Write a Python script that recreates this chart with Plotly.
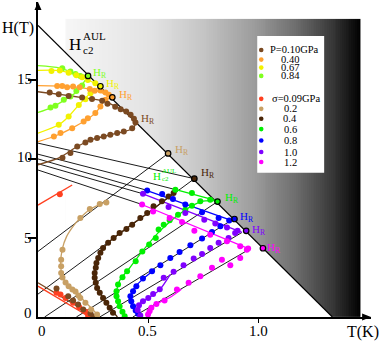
import numpy as np
import plotly.graph_objects as go

# ---------------- figure geometry ----------------
W, HGT = 382, 344
ML, MR, MT, MB = 37.5, 11.1, 2, 26.5
XMAX, YMAX = 1.51, 19.93
FONT = "Liberation Serif"

def px2paper_x(px):
    return (px - ML) / (W - ML - MR)

def px2paper_y(py):
    return (HGT - MB - py) / (HGT - MT - MB)

# ---------------- colours ----------------
C_P010 = "#7b4a22"
C_P040 = "#ffa030"
C_P067 = "#f2f200"
C_P084 = "#80ff20"
C_S009 = "#ff4020"
C_S02 = "#c8a064"
C_S04 = "#4a2608"
C_S06 = "#00f000"
C_S08 = "#0000ff"
C_S10 = "#8000ff"
C_S12 = "#ff00ff"

# ---------------- data (T in K, H in T) ----------------
# H_c2^AUL line
aul_T = [0.0, 1.335]
aul_H = [18.45, 0.0]

# pressure series
p084_T = [0.11, 0.147, 0.17, 0.192, 0.057, 0.079, 0.117, 0.147, 0.174, 0.2]
p084_H = [15.74, 15.53, 15.38, 15.25, 13.25, 13.36, 13.74, 13.95, 14.3, 14.64]
p084_fitU_T = [0.0, 0.1, 0.17, 0.227]
p084_fitU_H = [15.9, 15.75, 15.42, 15.25]
p084_fitL_T = [0.0, 0.06, 0.12, 0.175, 0.227]
p084_fitL_H = [12.94, 13.25, 13.72, 14.25, 15.25]

p067_T = [0.061, 0.099, 0.139, 0.174, 0.2, 0.226, 0.26, 0.094, 0.139, 0.185, 0.215, 0.238]
p067_H = [15.57, 15.59, 15.46, 15.3, 15.17, 15.0, 14.79, 12.16, 12.69, 13.42, 13.78, 14.16]
p067_fitU_T = [0.0, 0.1, 0.2, 0.283]
p067_fitU_H = [15.6, 15.59, 15.17, 14.6]
p067_fitL_T = [0.0, 0.094, 0.139, 0.185, 0.238, 0.283]
p067_fitL_H = [11.63, 12.16, 12.69, 13.42, 14.16, 14.6]

p040_T = [0.087, 0.11, 0.132, 0.159, 0.189, 0.235, 0.257, 0.283, 0.306,
          0.072, 0.102, 0.155, 0.207, 0.226, 0.26, 0.283, 0.306, 0.321]
p040_H = [14.62, 14.62, 14.54, 14.58, 14.54, 14.42, 14.31, 14.33, 14.2,
          11.42, 11.64, 11.95, 12.37, 12.58, 12.9, 13.32, 13.74, 14.06]
p040_fitU_T = [0.0, 0.15, 0.25, 0.337]
p040_fitU_H = [14.64, 14.58, 14.38, 13.9]
p040_fitL_T = [0.0, 0.072, 0.155, 0.26, 0.306, 0.337]
p040_fitL_H = [11.1, 11.42, 11.95, 12.9, 13.74, 13.9]

p010_T = [0.053, 0.094, 0.139, 0.2, 0.245, 0.291, 0.315, 0.35, 0.375, 0.4, 0.42, 0.435, 0.442,
          0.427, 0.389, 0.359, 0.328, 0.298, 0.268, 0.238, 0.215, 0.178, 0.147, 0.111]
p010_H = [14.2, 14.1, 13.99, 13.88, 13.8, 13.68, 13.5, 13.3, 13.15, 13.0, 12.8, 12.55, 12.3,
          11.95, 11.74, 11.64, 11.53, 11.42, 11.32, 11.21, 11.04, 10.79, 10.37, 10.08]
p010_fit_T = [0.0, 0.1, 0.2, 0.3, 0.38, 0.43, 0.442, 0.425, 0.35, 0.25, 0.18, 0.1, 0.0]
p010_fit_H = [14.25, 14.08, 13.88, 13.65, 13.1, 12.6, 12.2, 11.9, 11.6, 11.25, 10.8, 10.1, 9.63]

# uniaxial stress series
s009_T = [0.099, 0.084, 0.102, 0.125, 0.159, 0.187, 0.216, 0.227]
s009_H = [7.76, 1.53, 1.42, 1.21, 0.9, 0.62, 0.33, 0.1]
s009_fitU_T = [0.0, 0.155]
s009_fitU_H = [7.08, 8.35]
s009_fitL_T = [0.0, 0.235]
s009_fitL_H = [1.95, 0.0]

s0_T = [0.084, 0.137, 0.159, 0.182, 0.205, 0.238, 0.251]
s0_H = [1.8, 1.31, 1.04, 0.79, 0.47, 0.22, 0.03]
s0_fit_T = [0.0, 0.26]
s0_fit_H = [2.16, 0.0]

s02_T = [0.192, 0.235, 0.28, 0.31, 0.111, 0.105, 0.105, 0.105, 0.111, 0.125, 0.139,
         0.156, 0.17, 0.183, 0.192, 0.215, 0.241, 0.268]
s02_H = [6.27, 6.84, 7.15, 7.25, 4.26, 3.63, 3.21, 2.79, 2.5, 2.18, 1.95,
         1.74, 1.61, 1.36, 1.21, 0.9, 0.47, 0.16]
s02_fit_T = [0.28, 0.2, 0.14, 0.11, 0.103, 0.11, 0.13, 0.16, 0.192, 0.235, 0.31]
s02_fit_H = [0.0, 1.15, 1.95, 2.6, 3.4, 4.3, 5.1, 5.75, 6.27, 6.8, 7.3]

s04_T = [0.615, 0.592, 0.562, 0.524, 0.495, 0.464, 0.427, 0.401, 0.37, 0.343, 0.318, 0.295,
         0.283, 0.273, 0.265, 0.262, 0.257, 0.257, 0.262, 0.268, 0.28, 0.295, 0.31, 0.325, 0.34]
s04_H = [7.85, 7.63, 7.32, 7.0, 6.58, 6.27, 5.84, 5.57, 5.32, 5.0, 4.69, 4.37,
         4.06, 3.74, 3.42, 3.11, 2.79, 2.48, 2.16, 1.84, 1.53, 1.21, 0.9, 0.58, 0.27]
s04_fit_T = [0.36, 0.31, 0.275, 0.258, 0.265, 0.285, 0.33, 0.4, 0.5, 0.615]
s04_fit_H = [0.0, 0.9, 1.7, 2.6, 3.4, 4.1, 4.85, 5.6, 6.6, 7.85]

s06_T = [0.393, 0.383, 0.37, 0.363, 0.356, 0.356, 0.363, 0.383, 0.404, 0.443, 0.473, 0.504,
         0.534, 0.547, 0.57, 0.597, 0.635, 0.668, 0.698, 0.736, 0.781, 0.623, 0.698]
s06_H = [0.05, 0.33, 0.68, 1.0, 1.31, 1.63, 2.05, 2.51, 2.89, 3.52, 4.14, 4.58,
         5.0, 5.53, 5.84, 6.12, 6.47, 6.79, 7.04, 7.32, 7.42, 8.05, 7.85]
s06_fitL_T = [0.4, 0.365, 0.356, 0.37, 0.41, 0.47, 0.55, 0.65, 0.74, 0.814]
s06_fitL_H = [0.0, 0.8, 1.5, 2.3, 3.0, 4.1, 5.4, 6.6, 7.3, 7.35]
s06_fitU_T = [0.612, 0.814]
s06_fitU_H = [8.1, 7.35]

s08_T = [0.454, 0.443, 0.431, 0.423, 0.419, 0.431, 0.446, 0.476, 0.517, 0.555, 0.6, 0.642,
         0.691, 0.744, 0.789, 0.827, 0.495, 0.563, 0.612, 0.668, 0.744, 0.819, 0.867]
s08_H = [0.2, 0.41, 0.68, 1.0, 1.31, 1.63, 1.95, 2.43, 2.89, 3.27, 3.74, 4.12,
         4.54, 4.96, 5.38, 5.74, 8.01, 7.78, 7.47, 7.11, 6.62, 6.27, 6.1]
s08_fitL_T = [0.46, 0.43, 0.42, 0.44, 0.48, 0.53]
s08_fitL_H = [0.0, 0.7, 1.3, 1.9, 2.45, 3.0]
s08_fitU_T = [0.485, 0.88]
s08_fitU_H = [8.05, 6.1]

s10_T = [0.464, 0.452, 0.458, 0.476, 0.5, 0.522, 0.552, 0.57, 0.615, 0.66, 0.706, 0.744,
         0.781, 0.819, 0.864, 0.894, 0.476, 0.592, 0.668, 0.754, 0.804, 0.857, 0.905]
s10_H = [0.1, 0.45, 0.75, 1.0, 1.2, 1.45, 1.75, 2.48, 2.86, 3.27, 3.7, 3.99,
         4.37, 4.69, 5.0, 5.32, 7.8, 6.96, 6.58, 6.16, 5.91, 5.67, 5.46]
s10_fitL_T = [0.47, 0.452, 0.462, 0.5, 0.55, 0.6]
s10_fitL_H = [0.0, 0.45, 0.85, 1.2, 1.7, 2.7]
s10_fitU_T = [0.47, 0.925]
s10_fitU_H = [7.82, 5.35]

s12_T = [0.499, 0.506, 0.514, 0.537, 0.574, 0.63, 0.683, 0.736, 0.789, 0.834, 0.872, 0.917, 0.947,
         0.472, 0.522, 0.597, 0.653, 0.709, 0.781, 0.857, 0.917, 0.953]
s12_H = [0.16, 0.37, 0.58, 0.83, 1.04, 1.74, 2.16, 2.58, 3.11, 3.63, 3.27, 3.74, 4.26,
         7.11, 6.68, 6.27, 6.01, 5.46, 5.21, 4.79, 4.47, 4.33]
s12_fitL_T = [0.5, 0.51, 0.54, 0.6, 0.65]
s12_fitL_H = [0.0, 0.5, 0.85, 1.25, 1.75]
s12_fitU_T = [0.465, 0.96]
s12_fitU_H = [7.15, 4.3]

# thin black construction lines (each pair = segment end points)
blk_T = [[0, 0.709], [0, 0.612], [0, 0.485], [0, 0.47], [0, 0.465],
         [0, 0.59], [0, 0.709], [0.03, 0.814], [0.174, 0.875], [0.28, 0.925], [0.43, 0.96]]
blk_H = [[11.0, 8.75], [10.3, 8.1], [10.0, 8.05], [9.7, 7.82], [9.3, 7.15],
         [4.15, 10.35], [1.45, 8.75], [0, 7.3], [0, 6.1], [0, 5.35], [0, 4.3]]

# H_R points
hr_T = [0.227, 0.283, 0.337, 0.59, 0.709, 0.814, 0.891, 0.944, 1.02]
hr_H = [15.25, 14.6, 13.9, 10.35, 8.75, 7.3, 6.2, 5.45, 4.35]
hr_C = [C_P084, C_P067, C_P040, C_S02, C_S04, C_S06, C_S08, C_S10, C_S12]
hrlab_T = [0.242, 0.301, 0.356, 0.46, 0.614, 0.731, 0.84, 0.908, 0.962, 1.03]
hrlab_H = [15.44, 14.75, 14.06, 12.54, 10.58, 9.13, 7.55, 6.35, 5.53, 4.39]
hrlab_C = [C_P084, C_P067, C_P040, C_P010, C_S02, C_S04, C_S06, C_S08, C_S10, C_S12]

# legend
leg_P_labels = ["P=0.10GPa", "0.40", "0.67", "0.84"]
leg_P_colors = [C_P010, C_P040, C_P067, C_P084]
leg_S_labels = ["\u03c3=0.09GPa", "0.2", "0.4", "0.6", "0.8", "1.0", "1.2"]
leg_S_colors = [C_S009, C_S02, C_S04, C_S06, C_S08, C_S10, C_S12]

# axis ticks
xtick_vals = [0, 0.5, 1.0]
xtick_text = ["0", "0.5", "1.0"]
ytick_vals = [0, 5, 10, 15]
ytick_text = ["0", "5", "10", "15"]

# ---------------- build figure ----------------
fig = go.Figure()

# gray gradient region right of the H_c2^AUL line
gx0, gx1, gtop = 0.1245, 1.461, 18.86
xe = np.linspace(gx0, gx1, 161)
xc = 0.5 * (xe[:-1] + xe[1:])
zz = [list((xc - gx0) / (gx1 - gx0))]
fig.add_trace(go.Heatmap(
    x=xe, y=[0, gtop], z=zz, zmin=0, zmax=1, showscale=False, hoverinfo="skip",
    colorscale=[[0, "#f6f6f6"], [0.3, "#e2e2e2"], [0.47, "#c4c4c4"], [0.64, "#9c9c9c"],
                [0.78, "#6e6e6e"], [0.9, "#3a3a3a"], [1.0, "#000000"]]))
# white area below the line
hd = aul_H[0] * (1 - gx0 / aul_T[1])
fig.add_trace(go.Scatter(x=[gx0, aul_T[1] + 0.002, gx0, gx0], y=[hd + 0.05, -0.01, -0.01, hd + 0.05],
                         fill="toself", fillcolor="white", mode="none", hoverinfo="skip"))

# black construction lines
for tt, hh in zip(blk_T, blk_H):
    fig.add_trace(go.Scatter(x=tt, y=hh, mode="lines", line=dict(color="black", width=0.9),
                             hoverinfo="skip"))

# H_c2^AUL line
fig.add_trace(go.Scatter(x=aul_T, y=aul_H, mode="lines", line=dict(color="black", width=1.3),
                         hoverinfo="skip"))

def curve(t, h, c, w=1.3):
    fig.add_trace(go.Scatter(x=t, y=h, mode="lines", line=dict(color=c, width=w, shape="spline",
                                                               smoothing=0.8), hoverinfo="skip"))

def dots(t, h, c, s=6):
    fig.add_trace(go.Scatter(x=t, y=h, mode="markers", marker=dict(color=c, size=s),
                             hoverinfo="skip"))

curve(p084_fitU_T, p084_fitU_H, C_P084)
curve(p084_fitL_T, p084_fitL_H, C_P084)
curve(p067_fitU_T, p067_fitU_H, C_P067)
curve(p067_fitL_T, p067_fitL_H, C_P067)
curve(p040_fitU_T, p040_fitU_H, C_P040)
curve(p040_fitL_T, p040_fitL_H, C_P040)
curve(p010_fit_T, p010_fit_H, C_P010)
curve(s009_fitU_T, s009_fitU_H, C_S009)
curve(s009_fitL_T, s009_fitL_H, C_S009)
curve(s0_fit_T, s0_fit_H, C_P010)
curve(s02_fit_T, s02_fit_H, C_S02)
curve(s04_fit_T, s04_fit_H, C_S04)
curve(s06_fitL_T, s06_fitL_H, C_S06)
curve(s06_fitU_T, s06_fitU_H, C_S06)
curve(s08_fitL_T, s08_fitL_H, C_S08)
curve(s08_fitU_T, s08_fitU_H, C_S08)
curve(s10_fitL_T, s10_fitL_H, C_S10)
curve(s10_fitU_T, s10_fitU_H, C_S10)
curve(s12_fitL_T, s12_fitL_H, C_S12)
curve(s12_fitU_T, s12_fitU_H, C_S12)

dots(p084_T, p084_H, C_P084)
dots(p067_T, p067_H, C_P067)
dots(p040_T, p040_H, C_P040)
dots(p010_T, p010_H, C_P010)
dots(s009_T, s009_H, C_S009)
dots(s0_T, s0_H, C_P010)
dots(s02_T, s02_H, C_S02)
dots(s04_T, s04_H, C_S04)
dots(s06_T, s06_H, C_S06)
dots(s08_T, s08_H, C_S08)
dots(s10_T, s10_H, C_S10)
dots(s12_T, s12_H, C_S12)

# H_R markers
fig.add_trace(go.Scatter(x=hr_T, y=hr_H, mode="markers", hoverinfo="skip",
                         marker=dict(color=hr_C, size=5.5, line=dict(color="black", width=1.2))))

ann = []
for t, h, c in zip(hrlab_T, hrlab_H, hrlab_C):
    ann.append(dict(x=t, y=h, xref="x", yref="y", text="H<sub>R</sub>", showarrow=False,
                    xanchor="left", yanchor="middle", font=dict(family=FONT, size=11, color=c)))

# H_c2^AUL labels
ann.append(dict(x=px2paper_x(67), y=px2paper_y(45), xref="paper", yref="paper", text="H",
                showarrow=False, xanchor="left", yanchor="middle",
                font=dict(family=FONT, size=17, color="black")))
ann.append(dict(x=px2paper_x(81), y=px2paper_y(36), xref="paper", yref="paper", text="AUL",
                showarrow=False, xanchor="left", yanchor="middle",
                font=dict(family=FONT, size=11, color="black")))
ann.append(dict(x=px2paper_x(81), y=px2paper_y(50), xref="paper", yref="paper", text="c2",
                showarrow=False, xanchor="left", yanchor="middle",
                font=dict(family=FONT, size=11, color="black")))
ann.append(dict(x=px2paper_x(151), y=px2paper_y(176), xref="paper", yref="paper", text="H",
                showarrow=False, xanchor="left", yanchor="middle",
                font=dict(family=FONT, size=11, color=C_S06)))
ann.append(dict(x=px2paper_x(160), y=px2paper_y(171.5), xref="paper", yref="paper", text="AUL",
                showarrow=False, xanchor="left", yanchor="middle",
                font=dict(family=FONT, size=7, color=C_S06)))
ann.append(dict(x=px2paper_x(160), y=px2paper_y(179.5), xref="paper", yref="paper", text="c2",
                showarrow=False, xanchor="left", yanchor="middle",
                font=dict(family=FONT, size=7, color=C_S06)))

# axis titles
ann.append(dict(x=px2paper_x(17), y=px2paper_y(28.5), xref="paper", yref="paper", text="H(T)",
                showarrow=False, xanchor="center", yanchor="middle",
                font=dict(family=FONT, size=16, color="black")))
ann.append(dict(x=px2paper_x(363), y=px2paper_y(333), xref="paper", yref="paper", text="T(K)",
                showarrow=False, xanchor="center", yanchor="middle",
                font=dict(family=FONT, size=16, color="black")))

# tick labels
xlab_px = [42, 147, 258]
for v, t, xp in zip(xtick_vals, xtick_text, xlab_px):
    ann.append(dict(x=px2paper_x(xp), y=px2paper_y(332), xref="paper", yref="paper", text=t,
                    showarrow=False, xanchor="center", yanchor="middle",
                    font=dict(family=FONT, size=15, color="black")))
ylab_py = [313, 238, 157, 79]
for v, t, yp in zip(ytick_vals, ytick_text, ylab_py):
    ann.append(dict(x=px2paper_x(33.5), y=px2paper_y(yp), xref="paper", yref="paper", text=t,
                    showarrow=False, xanchor="right", yanchor="middle",
                    font=dict(family=FONT, size=15, color="black")))

# legend box
shapes = []
shapes.append(dict(type="rect", xref="paper", yref="paper", x0=px2paper_x(257), x1=px2paper_x(324),
                   y0=px2paper_y(173), y1=px2paper_y(36), fillcolor="white",
                   line=dict(width=0), layer="above"))
legP_y = [50, 59.7, 67.7, 76]
legS_y = [99, 109, 119, 129.3, 140.7, 152.3, 162.3]
rx = 2.3 / (W - ML - MR)
ry = 2.3 / (HGT - MT - MB)
for i, (lab, c, yy) in enumerate(list(zip(leg_P_labels, leg_P_colors, legP_y)) +
                                 list(zip(leg_S_labels, leg_S_colors, legS_y))):
    cx, cy = px2paper_x(261), px2paper_y(yy)
    shapes.append(dict(type="circle", xref="paper", yref="paper", x0=cx - rx, x1=cx + rx,
                       y0=cy - ry, y1=cy + ry, fillcolor=c, line=dict(width=0), layer="above"))
    if i in (0, 4):
        ann.append(dict(x=px2paper_x(268 if i == 0 else 270), y=px2paper_y(yy), xref="paper",
                        yref="paper", text=lab, showarrow=False, xanchor="left", yanchor="middle",
                        font=dict(family=FONT, size=10.5, color="black")))
    else:
        ann.append(dict(x=px2paper_x(290), y=px2paper_y(yy), xref="paper", yref="paper",
                        text=lab, showarrow=False, xanchor="center", yanchor="middle",
                        font=dict(family=FONT, size=10.5, color="black")))

# axis arrows
ax_dx = 3.5 / (W - ML - MR)
ax_dy = 3.5 / (HGT - MT - MB)
shapes.append(dict(type="path", xref="paper", yref="paper",
                   path=f"M {-ax_dx} {px2paper_y(10)} L 0 1 L {ax_dx} {px2paper_y(10)} Z",
                   fillcolor="black", line=dict(width=0), layer="above"))
shapes.append(dict(type="path", xref="paper", yref="paper",
                   path=f"M {px2paper_x(362)} {ax_dy} L 1 0 L {px2paper_x(362)} {-ax_dy} Z",
                   fillcolor="black", line=dict(width=0), layer="above"))

fig.update_layout(
    width=W, height=HGT, margin=dict(l=ML, r=MR, t=MT, b=MB, pad=0),
    paper_bgcolor="white", plot_bgcolor="white", showlegend=False,
    annotations=ann, shapes=shapes,
    xaxis=dict(range=[0, XMAX], showgrid=False, zeroline=False, showline=True, linecolor="black",
               linewidth=1.5, ticks="outside", tickvals=[0.5, 1.0], ticklen=4, tickwidth=1.3,
               tickcolor="black", showticklabels=False, fixedrange=True),
    yaxis=dict(range=[0, YMAX], showgrid=False, zeroline=False, showline=True, linecolor="black",
               linewidth=1.5, ticks="outside", tickvals=[5, 10, 15], ticklen=8, tickwidth=2,
               tickcolor="black", showticklabels=False, fixedrange=True),
)

fig.write_html("out.html", config={"displayModeBar": False},
               post_script="document.body.style.margin='0';document.body.style.overflow='hidden';")
